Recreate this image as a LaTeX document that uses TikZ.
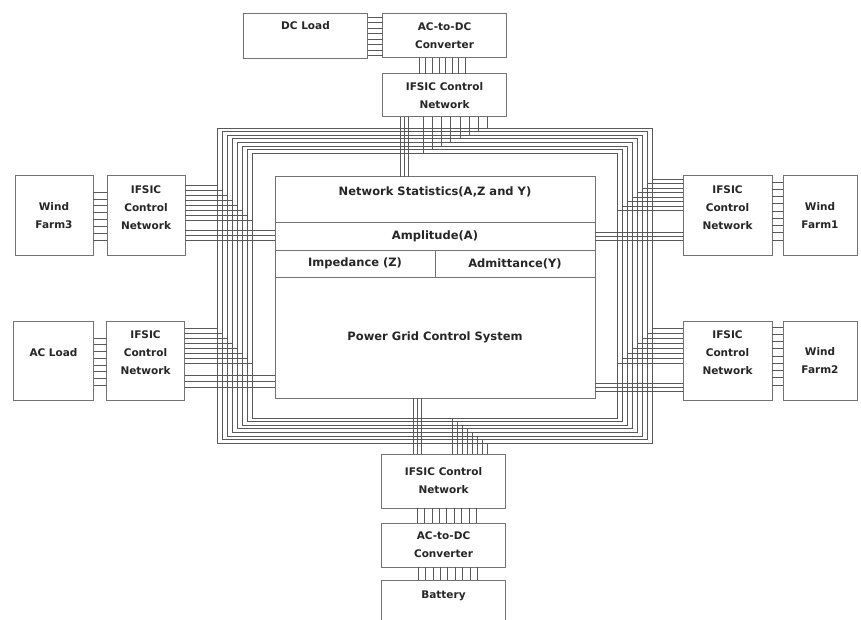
\documentclass[tikz,border=0pt]{standalone}
\usepackage{fontspec}
\setmainfont{DejaVu Sans}
\usetikzlibrary{positioning}

\begin{document}
\begin{tikzpicture}[x = 1pt, y = -1pt, node distance = 15pt,
		blk/.style = {draw = black!55, line width = 1pt, align = center, inner sep = 0pt, outer sep = 0pt, text = black!85, font = \fontsize{10.5}{18}\selectfont\bfseries},
		wide/.style = {blk, minimum width = 124pt},
		side/.style = {blk, minimum width = 78pt, minimum height = 79pt},
		cell/.style = {blk, font = \fontsize{11.5}{18}\selectfont\bfseries},
		wire/.style = {draw = black!65, line width = 0.6pt}]
	\path[use as bounding box, fill = white] (0,0) rectangle (861,620);
	\node[wide, minimum height = 44pt] (convT) at (444.5,36) {AC-to-DC\\Converter};
	\node[wide, minimum height = 45pt, text height = 16pt, text depth = 29pt, left = of convT] (dcload) {DC Load};
	\node[wide, minimum height = 43pt, below = 16pt of convT] (ifT) {IFSIC Control\\Network};
	\node[cell, minimum width = 320pt, minimum height = 46pt, text height = 19pt, text depth = 27pt] (ns) at (435,200) {Network Statistics(A,Z and Y)};
	\node[cell, minimum width = 320pt, minimum height = 27pt, below = 0pt of ns] (amp) {Amplitude(A)};
	\node[cell, minimum width = 160pt, minimum height = 27pt, below right = 0pt of amp.south west] (imp) {Impedance (Z)};
	\node[cell, minimum width = 160pt, minimum height = 27pt, below left = 0pt of amp.south east] (adm) {Admittance(Y)};
	\node[cell, minimum width = 320pt, minimum height = 121pt, below = 0pt of imp.south east] (pgcs) {Power Grid Control System};
	\node[side] (ifL1) at (146,215.5) {IFSIC\\Control\\Network\\[-2pt]\mbox{}};
	\node[side, left = 14pt of ifL1] (wf3) {Wind\\Farm3};
	\node[side] (ifL2) at (145.5,360.5) {IFSIC\\Control\\Network\\[-2pt]\mbox{}};
	\node[side, minimum width = 80pt, left = 13pt of ifL2] (acload) {AC Load\\[-2pt]\mbox{}};
	\node[side, minimum width = 89pt] (ifR1) at (727.5,215.5) {IFSIC\\Control\\Network\\[-2pt]\mbox{}};
	\node[side, minimum width = 74pt, right = 11pt of ifR1] (wf1) {Wind\\Farm1};
	\node[side, minimum width = 89pt] (ifR2) at (727.5,360.5) {IFSIC\\Control\\Network\\[-2pt]\mbox{}};
	\node[side, minimum width = 74pt, right = 11pt of ifR2] (wf2) {Wind\\Farm2};
	\node[wide, minimum height = 54pt] (ifB) at (443.5,481) {IFSIC Control\\Network};
	\node[wide, minimum height = 44pt, below = of ifB] (convB) {AC-to-DC\\Converter};
	\node[wide, minimum height = 45pt, text height = 18pt, text depth = 27pt, below = 13pt of convB] (battery) {Battery};
	\foreach \i in {0,...,7}
		\draw[wire] (217+5*\i,128+3.6*\i) rectangle (652-5*\i,443-3.6*\i);
	\foreach \k [evaluate = \k as \y using 17+5.5*\k] in {0,...,7}
		\draw[wire] (dcload.east |- 0,\y) -- (convT.west |- 0,\y);
	\foreach \k [evaluate = \k as \x using 419+6.6*\k] in {0,...,7}
		\draw[wire] (convT.south -| \x,0) -- (ifT.north -| \x,0);
	\foreach \x in {400,404,408}
		\draw[wire] (ifT.south -| \x,0) -- (ns.north -| \x,0);
	\foreach \k [evaluate = \k as \x using 423+9.2*\k, evaluate = \k as \y using 153.2-3.6*\k] in {0,...,7}
		\draw[wire] (ifT.south -| \x,0) -- (\x,\y);
	\foreach \k [evaluate = \k as \y using 192+6.9*\k] in {0,...,7}
		\draw[wire] (wf3.east |- 0,\y) -- (ifL1.west |- 0,\y);
	\foreach \k [evaluate = \k as \y using 185+5*\k] in {0,...,7}
		\draw[wire] (ifL1.east |- 0,\y) -- (217+5*\k,\y);
	\foreach \y in {230,235,240}
		\draw[wire] (ifL1.east |- 0,\y) -- (amp.west |- 0,\y);
	\foreach \k [evaluate = \k as \y using 338+6.7*\k] in {0,...,7}
		\draw[wire] (acload.east |- 0,\y) -- (ifL2.west |- 0,\y);
	\foreach \k [evaluate = \k as \y using 328+5*\k] in {0,...,7}
		\draw[wire] (ifL2.east |- 0,\y) -- (217+5*\k,\y);
	\foreach \y in {375,381,387}
		\draw[wire] (ifL2.east |- 0,\y) -- (pgcs.west |- 0,\y);
	\foreach \k [evaluate = \k as \y using 182+7.25*\k] in {0,...,8}
		\draw[wire] (ifR1.east |- 0,\y) -- (wf1.west |- 0,\y);
	\foreach \k [evaluate = \k as \y using 179+4.5*\k] in {0,...,7}
		\draw[wire] (ifR1.west |- 0,\y) -- (652-5*\k,\y);
	\foreach \y in {232,236,240}
		\draw[wire] (ifR1.west |- 0,\y) -- (amp.east |- 0,\y);
	\foreach \k [evaluate = \k as \y using 327+7.25*\k] in {0,...,8}
		\draw[wire] (ifR2.east |- 0,\y) -- (wf2.west |- 0,\y);
	\foreach \k [evaluate = \k as \y using 328+5*\k] in {0,...,7}
		\draw[wire] (ifR2.west |- 0,\y) -- (652-5*\k,\y);
	\foreach \y in {383,387,391}
		\draw[wire] (ifR2.west |- 0,\y) -- (pgcs.east |- 0,\y);
	\foreach \x in {413,417,421}
		\draw[wire] (ifB.north -| \x,0) -- (pgcs.south -| \x,0);
	\foreach \k [evaluate = \k as \x using 452+5*\k, evaluate = \k as \y using 417.8+3.6*\k] in {0,...,7}
		\draw[wire] (ifB.north -| \x,0) -- (\x,\y);
	\foreach \k [evaluate = \k as \x using 417+7.4*\k] in {0,...,8}
		\draw[wire] (ifB.south -| \x,0) -- (convB.north -| \x,0);
	\foreach \k [evaluate = \k as \x using 418+7.4*\k] in {0,...,8}
		\draw[wire] (convB.south -| \x,0) -- (battery.north -| \x,0);
\end{tikzpicture}
\end{document}
